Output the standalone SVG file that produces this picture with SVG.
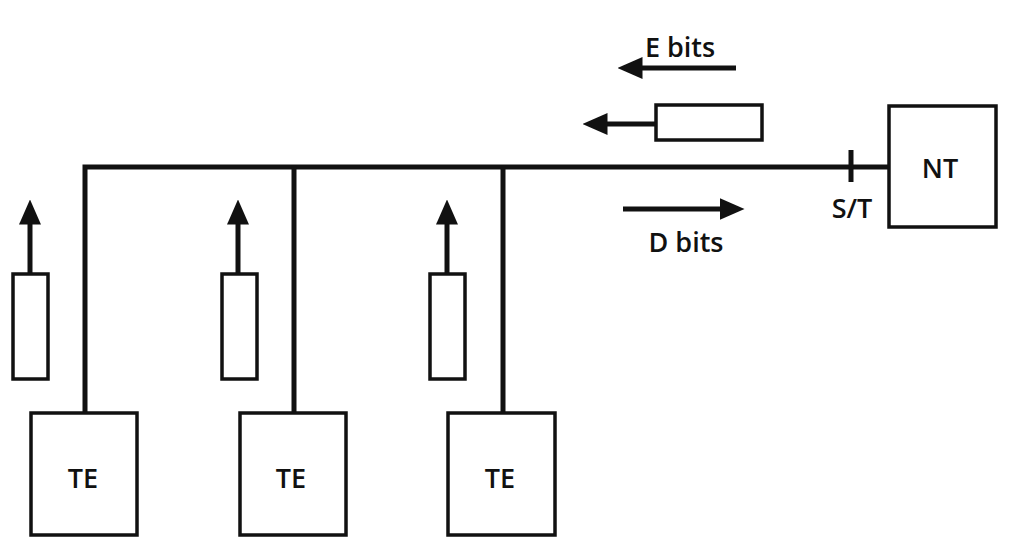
<svg xmlns="http://www.w3.org/2000/svg" width="1023" height="538" viewBox="0 0 1023 538">
<defs>
<style>
.box{fill:none;stroke:#111;stroke-width:3.5}
.bus{fill:none;stroke:#111;stroke-width:5}
.arr{fill:none;stroke:#111;stroke-width:5}
.lbl{font-family:"Open Sans","Liberation Sans",sans-serif;font-weight:600;font-size:27px;fill:#111}
</style>
<marker id="ah" markerWidth="5" markerHeight="5" refX="0.5" refY="2.5" orient="auto" markerUnits="strokeWidth">
<path d="M0,0.3 L5,2.5 L0,4.7 Z" fill="#111"/>
</marker>
</defs>
<rect width="1023" height="538" fill="#fff"/>
<g id="connectors">
<path class="bus" d="M85,413 V167 H889"/>
<path class="bus" d="M294,167 V413"/>
<path class="bus" d="M503,167 V413"/>
<path class="bus" d="M851,150 V182" stroke-width="3.5"/>
<path class="arr" d="M30,274 V222" marker-end="url(#ah)"/>
<path class="arr" d="M238,274 V222" marker-end="url(#ah)"/>
<path class="arr" d="M447,274 V222" marker-end="url(#ah)"/>
<path class="arr" d="M736,68 H640" marker-end="url(#ah)"/>
<path class="arr" d="M656,124 H605" marker-end="url(#ah)"/>
<path class="arr" d="M623,209 H722" marker-end="url(#ah)"/>
</g>
<g id="nt"><rect class="box" x="889" y="106" width="107" height="121"/><text class="lbl" x="940" y="178" text-anchor="middle">NT</text></g>
<g id="st"><text class="lbl" x="852" y="218" text-anchor="middle">S/T</text></g>
<g id="te1"><rect class="box" x="31" y="413" width="106" height="122"/><text class="lbl" x="83" y="488" text-anchor="middle">TE</text></g>
<g id="te2"><rect class="box" x="240" y="413" width="106" height="122"/><text class="lbl" x="291" y="488" text-anchor="middle">TE</text></g>
<g id="te3"><rect class="box" x="448" y="413" width="107" height="122"/><text class="lbl" x="500" y="488" text-anchor="middle">TE</text></g>
<g id="r1"><rect class="box" x="13" y="274" width="35" height="105"/></g>
<g id="r2"><rect class="box" x="222" y="274" width="35" height="105"/></g>
<g id="r3"><rect class="box" x="430" y="274" width="35" height="105"/></g>
<g id="r4"><rect class="box" x="656" y="105" width="106" height="35"/></g>
<g id="ebits"><text class="lbl" x="680" y="57" text-anchor="middle">E bits</text></g>
<g id="dbits"><text class="lbl" x="686" y="252" text-anchor="middle">D bits</text></g>
</svg>
